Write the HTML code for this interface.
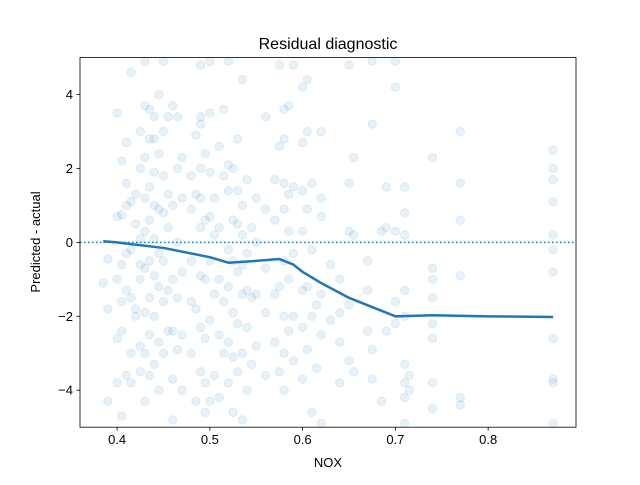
<!DOCTYPE html>
<html><head><meta charset="utf-8"><style>
body{margin:0;background:#fff}
svg text{font-family:"Liberation Sans","DejaVu Sans",sans-serif;fill:#000}
</style></head><body>
<svg id="chart" width="640" height="480" xmlns="http://www.w3.org/2000/svg">
<rect width="640" height="480" fill="#fff"/>
<g id="pts"></g>
<g id="lines"></g>
<g id="axes"></g>
<text x="328" y="49" text-anchor="middle" font-size="16">Residual diagnostic</text>
<text x="328" y="467" text-anchor="middle" font-size="13">NOX</text>
<text transform="translate(40,242) rotate(-90)" text-anchor="middle" font-size="13">Predicted - actual</text>
</svg>
<script>
const groupX=[0.385,0.39,0.40,0.405,0.41,0.415,0.42,0.425,0.43,0.435,0.44,0.445,0.45,0.455,0.46,0.465,0.47,0.48,0.485,0.49,0.495,0.5,0.505,0.51,0.515,0.52,0.525,0.53,0.535,0.54,0.545,0.55,0.56,0.57,0.575,0.58,0.585,0.59,0.6,0.605,0.61,0.615,0.62,0.63,0.64,0.65,0.655,0.67,0.675,0.685,0.69,0.7,0.71,0.715,0.74,0.77,0.87];
const groupY=[[-1.1],[-4.3,-1.8,-0.45],[-3.8,-2.6,-1.0,0.7,3.5],[-4.7,-2.4,-1.6,-0.6,2.2,0.75],[-3.6,-1.3,1.6,2.7,1.0,-0.3],[-3.0,-0.2,4.6,1.1,-1.5,-3.8],[-1.8,0.5,1.3,-2.0],[-3.5,-2.8,-1.0,-0.6,0.1,2.0,3.0],[-4.3,-3.0,-1.9,-0.7,0.3,1.2,2.3,3.7,4.9],[-3.6,-2.5,-1.5,-0.5,0.6,1.5,2.8,3.6],[-3.3,-2.0,-0.9,0.1,1.0,1.9,2.8,3.4],[-4.0,-2.7,-1.2,-0.3,0.9,2.4,4.0],[-3.0,-1.6,-0.5,0.8,1.8,3.0,4.9],[-2.4,-1.3,0.4,1.3,3.4],[-4.8,-3.7,-2.4,-1.0,1.0,3.7],[-2.9,-1.5,0.0,2.0,3.4],[-4.0,-2.5,-0.8,1.2,2.3],[-3.0,-1.6,-0.5,0.9,1.8],[-4.3,-1.8,1.3,2.9],[-3.5,-2.3,-0.9,0.4,1.2,2.0,3.2,3.4,4.8],[-4.6,-3.8,-2.6,-1.0,0.6,2.4],[-4.3,-2.1,-0.5,0.7,1.9,3.5,4.9],[-3.6,-1.4,0.2,1.2],[-4.2,-2.5,-1.0,0.4,2.6],[-3.0,-1.6,1.8,3.6],[-3.8,-2.7,-1.2,-0.2,1.4,2.1,4.9],[-4.6,-3.1,-1.9,-0.5,0.6,2.0],[-3.5,-2.2,-0.8,0.5,1.4,2.8],[-4.8,-3.0,-1.4,-0.6,0.2,1.0,4.4],[-4.0,-2.3,-1.3,-0.3,1.7],[-3.3,-1.5,0.4],[-2.8,-1.4,0.0,1.2],[-3.6,-1.9,-0.7,0.9,3.4],[-2.7,-1.4,0.6,1.7],[-3.5,-1.2,2.6,4.8],[-4.0,-3.0,-2.0,-0.5,0.9,1.6,2.8,3.6],[-2.4,-1.0,0.3,1.3,3.7],[-3.2,-2.0,-0.3,1.5,4.8],[-3.7,-2.3,-1.3,0.3,1.4,2.7,4.2],[-2.9,-1.2,0.9,3.0,4.4],[-4.6,-2.0,-0.2,1.6],[-3.4,-1.7],[-4.9,-2.5,-1.4,0.7,1.2,3.0],[-2.1,-0.6],[-3.8,-2.7,-1.9,-1.0],[-3.2,-1.7,0.3,1.6,4.8],[-3.5,0.2,2.3],[-2.4,-1.3,-0.5],[-3.7,-2.9,3.2,4.9],[-4.3,0.3],[-2.4,0.4,1.5],[-2.2,-1.6,0.3,4.2,4.9],[-4.9,-4.2,-3.8,-3.3,-2.0,-1.3,0.2,0.8,1.5],[-4.0,-3.6],[-4.5,-3.8,-2.6,-2.2,-1.5,-1.0,-0.7,2.3],[-4.4,-4.2,-0.9,0.6,1.6,3.0],[-4.9,-3.8,-3.7,-2.6,-0.8,-0.2,0.2,1.1,1.7,2.0,2.5]];
const trendX=[0.385,0.4,0.45,0.5,0.52,0.55,0.575,0.59,0.6,0.62,0.65,0.68,0.7,0.74,0.8,0.87];
const trendY=[0.03,0.0,-0.15,-0.4,-0.55,-0.5,-0.45,-0.6,-0.8,-1.1,-1.5,-1.8,-2.0,-1.97,-2.0,-2.02];
const xTicks=[0.4,0.5,0.6,0.7,0.8];
const yTicks=[-4,-2,0,2,4];
const L=80,R=576,T=57.6,B=427.2;
const xmin=0.36,xmax=0.8947,ymin=-5,ymax=5;
const sx=v=>L+(v-xmin)/(xmax-xmin)*(R-L);
const sy=v=>B-(v-ymin)/(ymax-ymin)*(B-T);
const NS='http://www.w3.org/2000/svg';
function mk(tag,attrs,parent){const e=document.createElementNS(NS,tag);for(const k in attrs)e.setAttribute(k,attrs[k]);parent.appendChild(e);return e;}
const pts=document.getElementById('pts');
groupX.forEach((x,i)=>groupY[i].forEach(y=>{
  const c=mk('circle',{cx:sx(x),cy:sy(y),r:4.2,fill:'rgba(31,119,180,0.1)',stroke:'rgba(31,119,180,0.1)','stroke-width':1},pts);
  
  
}));
const lines=document.getElementById('lines');
const zl=mk('line',{x1:L,x2:R,y1:sy(0),y2:sy(0),stroke:'#1f77b4','stroke-width':1.5,'stroke-dasharray':'1.5,2.5'},lines);


const tl=mk('polyline',{points:trendX.map((x,i)=>sx(x)+','+sy(trendY[i])).join(' '),fill:'none',stroke:'#1f77b4','stroke-width':2.5,'stroke-linejoin':'round'},lines);


const ax=document.getElementById('axes');
const fr=mk('rect',{x:L,y:T,width:R-L,height:B-T,fill:'none',stroke:'#000','stroke-width':0.8},ax);


xTicks.forEach(v=>{
  mk('line',{x1:sx(v),x2:sx(v),y1:B,y2:B+3.5,stroke:'#000','stroke-width':0.8},ax);
  const t=mk('text',{x:sx(v),y:B+17,'text-anchor':'middle','font-size':13},ax);
  t.textContent=v.toFixed(1);
  
  
});
yTicks.forEach(v=>{
  mk('line',{x1:L-3.5,x2:L,y1:sy(v),y2:sy(v),stroke:'#000','stroke-width':0.8},ax);
  const t=mk('text',{x:L-7,y:sy(v)+4.5,'text-anchor':'end','font-size':13},ax);
  t.textContent=v<0?'\u2212'+Math.abs(v):String(v);
  
  
});
</script>
</body></html>
